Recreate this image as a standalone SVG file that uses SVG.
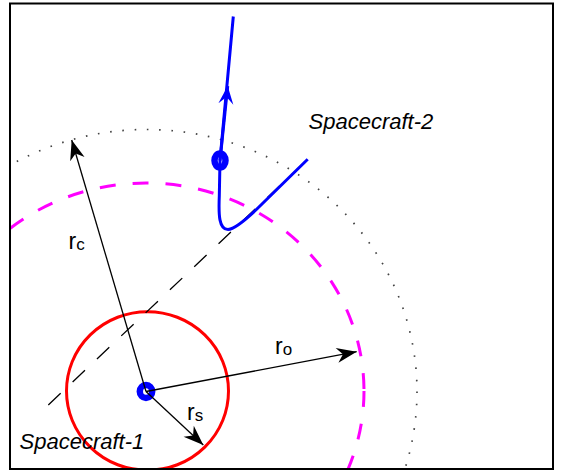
<svg xmlns="http://www.w3.org/2000/svg" width="566" height="473" viewBox="0 0 566 473">
  <defs>
    <style>
      .lbl { font-family: "Liberation Sans", Arial, sans-serif; font-size: 23px; fill: #000; }
      .sub { font-size: 17px; }
      .name { font-family: "Liberation Sans", Arial, sans-serif; font-size: 22px; font-style: italic; fill: #000; }
      .arrow { stroke: #000; stroke-width: 1.3; fill: none; marker-end: url(#headK); }
      .marker { fill: none; stroke: #0000FF; stroke-width: 6.5; }
    </style>
    <clipPath id="axes">
      <rect x="10" y="3.5" width="543" height="465.5"/>
    </clipPath>
    <marker id="headK" markerUnits="userSpaceOnUse" viewBox="-21 -8 22 16" markerWidth="22" markerHeight="16" refX="0" refY="0" orient="auto">
      <path d="M0,0 L-20,-7.5 L-14,0 L-20,7.5 Z" fill="#000"/>
    </marker>
    <marker id="headB" markerUnits="userSpaceOnUse" viewBox="-19 -9 20 18" markerWidth="20" markerHeight="18" refX="0" refY="0" orient="auto">
      <path d="M0,0 L-18,-7.5 L-11,0 L-18,7.5 Z" fill="#0000FF"/>
    </marker>
  </defs>
  <rect x="0" y="0" width="566" height="473" fill="#fff"/>
  <g clip-path="url(#axes)">
    <g id="boundaries">
      <ellipse cx="146.5" cy="391.5" rx="270.5" ry="262" fill="none" stroke="#444" stroke-width="1.7" stroke-dasharray="1.6 10.7"/>
      <ellipse cx="146" cy="391" rx="218" ry="208" fill="none" stroke="#FF00FF" stroke-width="3" stroke-dasharray="16 17"/>
      <ellipse cx="147.5" cy="391" rx="81" ry="79.3" fill="none" stroke="#FF0000" stroke-width="3"/>
      <path d="M48.3,405 L307.7,159.3" fill="none" stroke="#000" stroke-width="1.3" stroke-dasharray="17 16.5"/>
    </g>
    <g id="trajectory">
      <path d="M233.3,16.5 L220,160.5 L219.3,196 C218.5,215 219,229.5 228,229.5 C236,229 250,216 262,204 L307.7,159.3" fill="none" stroke="#0000FF" stroke-width="3" stroke-linejoin="round"/>
      <path d="M220,160.5 L227.7,86" fill="none" stroke="#0000FF" stroke-width="3" marker-end="url(#headB)"/>
    </g>
    <g id="spacecraft-1">
      <ellipse class="marker" cx="146" cy="391.5" rx="6.2" ry="6.5"/>
    </g>
    <g id="spacecraft-2">
      <ellipse class="marker" cx="220" cy="160.5" rx="5.5" ry="7"/>
    </g>
    <g id="connectors">
      <path class="arrow" d="M146,391.5 L71.7,140"/>
      <path class="arrow" d="M146,391.5 L356.7,351.7"/>
      <path class="arrow" d="M146,391.5 L203.3,445"/>
    </g>
  </g>
  <g id="labels">
    <text class="lbl" x="68.5" y="249">r<tspan class="sub" dy="1">c</tspan></text>
    <text class="lbl" x="275" y="354">r<tspan class="sub" dy="1">o</tspan></text>
    <text class="lbl" x="187" y="420">r<tspan class="sub" dy="1">s</tspan></text>
    <text class="name" x="308.5" y="129">Spacecraft-2</text>
    <text class="name" x="19.5" y="448.5">Spacecraft-1</text>
  </g>
  <rect id="frame" x="10" y="3.5" width="543" height="465.5" fill="none" stroke="#000" stroke-width="2"/>
</svg>
